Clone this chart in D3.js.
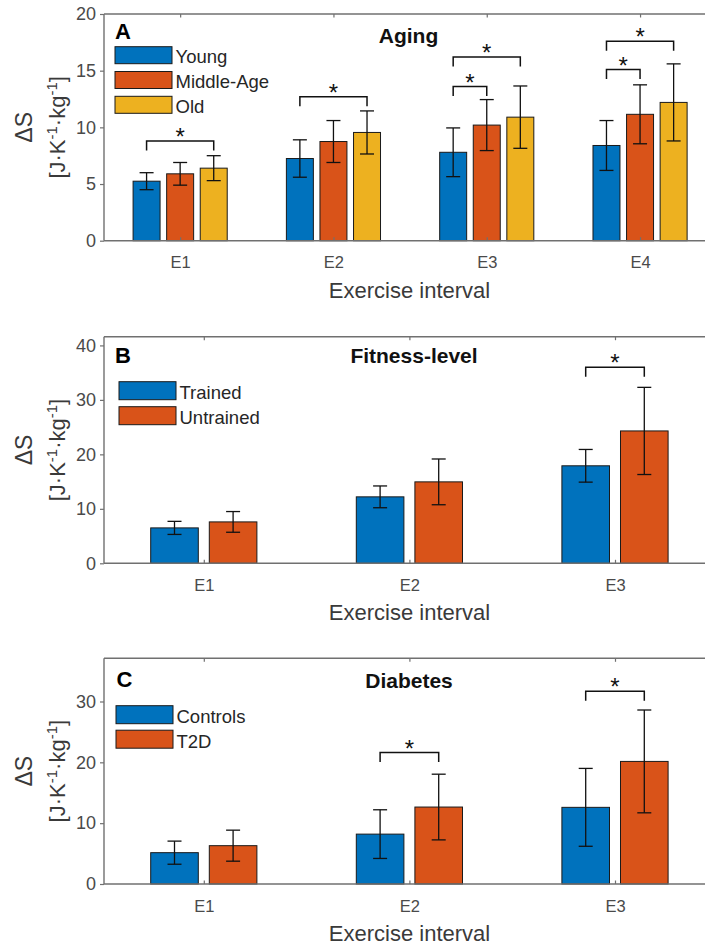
<!DOCTYPE html>
<html>
<head>
<meta charset="utf-8">
<script src="https://cdn.jsdelivr.net/npm/d3@7"></script>
<style>
  html, body { margin: 0; padding: 0; background: #ffffff; overflow: hidden; }
  svg { display: block; }
  text { font-family: "Liberation Sans", Arial, Helvetica, sans-serif; }
</style>
</head>
<body>
<svg id="chart" width="705" height="945"></svg>
<script>
// ---------------- DATA ----------------
// Panel A: Aging
const agingCategories = ["E1", "E2", "E3", "E4"];
const agingGroups = ["Young", "Middle-Age", "Old"];
const agingYoung = [5.25, 7.25, 7.8, 8.4];
const agingYoungErr = [0.75, 1.65, 2.15, 2.2];
const agingMiddle = [5.9, 8.75, 10.2, 11.15];
const agingMiddleErr = [1.0, 1.85, 2.25, 2.6];
const agingOld = [6.4, 9.55, 10.9, 12.2];
const agingOldErr = [1.1, 1.9, 2.75, 3.4];
const agingYTicks = [0, 5, 10, 15, 20];
const agingSig = [
  { cat: 0, from: 0, to: 2, y: 8.8 },
  { cat: 1, from: 0, to: 2, y: 12.7 },
  { cat: 2, from: 0, to: 1, y: 13.6 },
  { cat: 2, from: 0, to: 2, y: 16.2 },
  { cat: 3, from: 0, to: 1, y: 15.1 },
  { cat: 3, from: 0, to: 2, y: 17.6 }
];

// Panel B: Fitness-level
const fitnessCategories = ["E1", "E2", "E3"];
const fitnessGroups = ["Trained", "Untrained"];
const fitnessTrained = [6.5, 12.2, 17.9];
const fitnessTrainedErr = [1.2, 2.0, 3.0];
const fitnessUntrained = [7.6, 14.95, 24.3];
const fitnessUntrainedErr = [1.9, 4.2, 8.0];
const fitnessYTicks = [0, 10, 20, 30, 40];
const fitnessSig = [{ cat: 2, from: 0, to: 1, y: 36.0 }];

// Panel C: Diabetes
const diabetesCategories = ["E1", "E2", "E3"];
const diabetesGroups = ["Controls", "T2D"];
const diabetesControls = [5.15, 8.2, 12.6];
const diabetesControlsErr = [1.9, 4.0, 6.4];
const diabetesT2D = [6.3, 12.65, 20.15];
const diabetesT2DErr = [2.55, 5.4, 8.45];
const diabetesYTicks = [0, 10, 20, 30];
const diabetesSig = [
  { cat: 1, from: 0, to: 1, y: 21.6 },
  { cat: 2, from: 0, to: 1, y: 31.7 }
];

const seriesColors = ["#0072BD", "#D95319", "#EDB120"];
const xAxisLabel = "Exercise interval";

// ---------------- LAYOUT ----------------
const panels = [
  {
    letter: "A", title: "Aging", categories: agingCategories, groups: agingGroups,
    values: [agingYoung, agingMiddle, agingOld], errors: [agingYoungErr, agingMiddleErr, agingOldErr],
    yTicks: agingYTicks, yMax: 20, sig: agingSig,
    top: 14, bottom: 240.7, xRange: [103.5, 716.7], barW: 0.176, offs: [-0.219, 0, 0.219],
    letterX: 115, letterY: 39.3, titleX: 408.5, titleY: 43.3, legendX: 115, legendY: 46.7, legendW: 57, legendH: 17, legendStep: 24.8
  },
  {
    letter: "B", title: "Fitness-level", categories: fitnessCategories, groups: fitnessGroups,
    values: [fitnessTrained, fitnessUntrained], errors: [fitnessTrainedErr, fitnessUntrainedErr],
    yTicks: fitnessYTicks, yMax: 41.6, sig: fitnessSig,
    top: 336.7, bottom: 563.3, xRange: [101, 717.8], barW: 0.2315, offs: [-0.1425, 0.1425],
    letterX: 115, letterY: 363.3, titleX: 414, titleY: 363.3, legendX: 119, legendY: 381.7, legendW: 57, legendH: 18, legendStep: 25
  },
  {
    letter: "C", title: "Diabetes", categories: diabetesCategories, groups: diabetesGroups,
    values: [diabetesControls, diabetesT2D], errors: [diabetesControlsErr, diabetesT2DErr],
    yTicks: diabetesYTicks, yMax: 37.1, sig: diabetesSig,
    top: 658.3, bottom: 884, xRange: [101, 717.8], barW: 0.2315, offs: [-0.1425, 0.1425],
    letterX: 116.5, letterY: 686.7, titleX: 409, titleY: 687.7, legendX: 116, legendY: 705.7, legendW: 57, legendH: 18, legendStep: 24.5
  }
];

const axisLeftX = 104;
const axisColor = "#707070";
const tickTextColor = "#4a4a4a";

const svg = d3.select("#chart");

panels.forEach(p => {
  const n = p.categories.length;
  const g = svg.append("g");
  const x = d3.scaleLinear().domain([0.5, n + 0.5]).range(p.xRange);
  const y = d3.scaleLinear().domain([0, p.yMax]).range([p.bottom, p.top]);
  const offs = p.offs;
  const bw = x(1 + p.barW) - x(1);

  // bars
  p.values.forEach((vals, si) => {
    g.append("g").selectAll("rect").data(vals).join("rect")
      .attr("x", (d, i) => x(i + 1 + offs[si]) - bw / 2)
      .attr("y", d => y(d))
      .attr("width", bw)
      .attr("height", d => y(0) - y(d))
      .attr("fill", seriesColors[si])
      .attr("stroke", "#1a1a1a")
      .attr("stroke-width", 1);
  });

  // error bars
  p.values.forEach((vals, si) => {
    const eg = g.append("g").attr("stroke", "#111").attr("stroke-width", 1.3).attr("fill", "none");
    vals.forEach((v, i) => {
      const e = p.errors[si][i];
      const cx = x(i + 1 + offs[si]);
      eg.append("line").attr("x1", cx).attr("x2", cx).attr("y1", y(v - e)).attr("y2", y(v + e));
      eg.append("line").attr("x1", cx - 7).attr("x2", cx + 7).attr("y1", y(v + e)).attr("y2", y(v + e));
      eg.append("line").attr("x1", cx - 7).attr("x2", cx + 7).attr("y1", y(v - e)).attr("y2", y(v - e));
    });
  });

  // significance brackets
  p.sig.forEach(s => {
    const x1 = x(s.cat + 1 + offs[s.from]);
    const x2 = x(s.cat + 1 + offs[s.to]);
    const yy = y(s.y);
    g.append("path")
      .attr("d", `M${x1},${yy + 9.5}V${yy}H${x2}V${yy + 9.5}`)
      .attr("fill", "none").attr("stroke", "#111").attr("stroke-width", 1.5);
    g.append("text")
      .attr("x", (x1 + x2) / 2).attr("y", yy + 4)
      .attr("text-anchor", "middle")
      .attr("font-size", 24).attr("fill", "#111")
      .text("*");
  });

  // axes frame
  g.append("line").attr("x1", axisLeftX).attr("x2", 720).attr("y1", p.top).attr("y2", p.top)
    .attr("stroke", axisColor).attr("stroke-width", 1.4);
  g.append("line").attr("x1", axisLeftX).attr("x2", 720).attr("y1", p.bottom).attr("y2", p.bottom)
    .attr("stroke", axisColor).attr("stroke-width", 1.4);
  g.append("line").attr("x1", axisLeftX).attr("x2", axisLeftX).attr("y1", p.top).attr("y2", p.bottom)
    .attr("stroke", axisColor).attr("stroke-width", 1.4);

  // bottom axis (ticks inward)
  const xb = g.append("g").attr("transform", `translate(0,${p.bottom})`)
    .call(d3.axisBottom(x).tickValues(d3.range(1, n + 1)).tickFormat(i => p.categories[i - 1])
      .tickSizeInner(-3.5).tickSizeOuter(0).tickPadding(16));
  xb.select(".domain").remove();
  xb.selectAll(".tick line").attr("stroke", axisColor).attr("stroke-width", 1.2);
  xb.selectAll(".tick text").attr("font-size", 16.5).attr("fill", tickTextColor)
    .attr("font-family", "Liberation Sans, Arial, sans-serif");

  // top axis (ticks inward, no labels)
  const xt = g.append("g").attr("transform", `translate(0,${p.top})`)
    .call(d3.axisTop(x).tickValues(d3.range(1, n + 1)).tickFormat("").tickSizeInner(-3.5).tickSizeOuter(0));
  xt.select(".domain").remove();
  xt.selectAll(".tick line").attr("stroke", axisColor).attr("stroke-width", 1.2);

  // left axis
  const ya = g.append("g").attr("transform", `translate(${axisLeftX},0)`)
    .call(d3.axisLeft(y).tickValues(p.yTicks).tickFormat(d3.format("d")).tickSizeInner(4).tickSizeOuter(0).tickPadding(4));
  ya.select(".domain").remove();
  ya.selectAll(".tick line").attr("stroke", axisColor).attr("stroke-width", 1.2);
  ya.selectAll(".tick text").attr("font-size", 18).attr("fill", tickTextColor)
    .attr("font-family", "Liberation Sans, Arial, sans-serif");

  // x axis label
  g.append("text").attr("x", 409.5).attr("y", p.bottom + 57)
    .attr("text-anchor", "middle").attr("font-size", 22).attr("fill", "#3a3a3a")
    .text(xAxisLabel);

  // y axis label (two lines, rotated)
  const cy = (p.top + p.bottom) / 2;
  g.append("text").attr("transform", `translate(31.5,${cy}) rotate(-90)`)
    .attr("text-anchor", "middle").attr("font-size", 23).attr("fill", "#3a3a3a")
    .text("ΔS");
  const ul = g.append("text").attr("transform", `translate(65,${cy}) rotate(-90)`)
    .attr("text-anchor", "middle").attr("font-size", 22).attr("fill", "#3a3a3a");
  ul.append("tspan").text("[J·K");
  ul.append("tspan").attr("dy", -8).attr("font-size", 15).text("-1");
  ul.append("tspan").attr("dy", 8).text("·kg");
  ul.append("tspan").attr("dy", -8).attr("font-size", 15).text("-1");
  ul.append("tspan").attr("dy", 8).text("]");

  // panel letter
  g.append("text").attr("x", p.letterX).attr("y", p.letterY)
    .attr("font-size", 22).attr("font-weight", "bold").attr("fill", "#000")
    .text(p.letter);

  // title
  g.append("text").attr("x", p.titleX).attr("y", p.titleY)
    .attr("text-anchor", "middle").attr("font-size", 21).attr("font-weight", "bold").attr("fill", "#111")
    .text(p.title);

  // legend
  const lg = g.append("g");
  p.groups.forEach((name, i) => {
    const ly = p.legendY + i * p.legendStep;
    lg.append("rect").attr("x", p.legendX).attr("y", ly).attr("width", p.legendW).attr("height", p.legendH)
      .attr("fill", seriesColors[i]).attr("stroke", "#1a1a1a").attr("stroke-width", 1);
    lg.append("text").attr("x", p.legendX + p.legendW + 3.5).attr("y", ly + p.legendH - 0.5)
      .attr("font-size", 18.5).attr("fill", "#262626").text(name);
  });
});
</script>
</body>
</html>
